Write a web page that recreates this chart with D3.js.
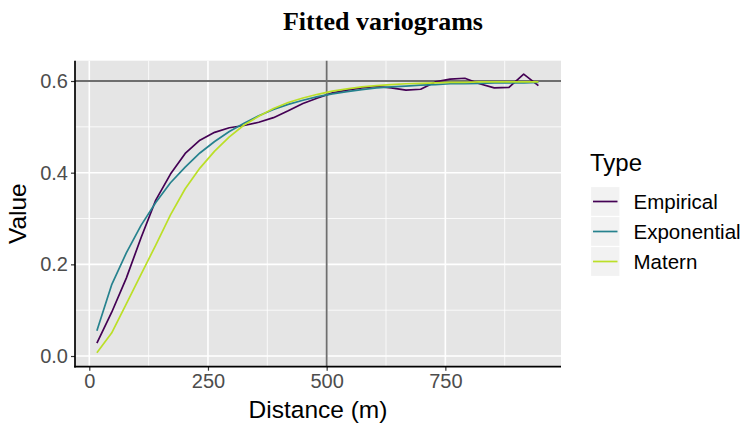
<!DOCTYPE html>
<html><head><meta charset="utf-8">
<script src="https://cdn.jsdelivr.net/npm/d3@7"></script>
<style>body{margin:0;background:#fff}svg{display:block}</style>
</head><body>
<svg id="c" width="743" height="426"></svg>
<script>
const distances = [16,47,78,109,140,171,202,233,264,295,326,357,388,419,450,481,512,543,574,605,636,667,698,729,760,791,822,853,884,915,946];
const empirical = [0.028,0.095,0.170,0.258,0.340,0.397,0.442,0.471,0.488,0.498,0.503,0.510,0.520,0.535,0.551,0.563,0.574,0.580,0.585,0.588,0.585,0.580,0.582,0.598,0.604,0.606,0.594,0.585,0.586,0.615,0.590];
const exponential = [0.055,0.155,0.225,0.285,0.335,0.378,0.412,0.443,0.468,0.490,0.508,0.524,0.538,0.549,0.558,0.566,0.572,0.577,0.581,0.585,0.587,0.589,0.591,0.592,0.594,0.594,0.595,0.596,0.596,0.596,0.597];
const matern = [0.007,0.050,0.114,0.178,0.242,0.308,0.365,0.410,0.447,0.478,0.504,0.523,0.540,0.553,0.563,0.571,0.578,0.583,0.587,0.590,0.592,0.594,0.595,0.596,0.597,0.597,0.598,0.598,0.598,0.598,0.598];
const seriesNames = ["Empirical","Exponential","Matern"];
const seriesColors = ["#440154","#26828E","#BBDF27"];
const xTicks = [0,250,500,750];
const yTicks = [0,0.2,0.4,0.6];
const xMinor = [125,375,625,875];
const yMinor = [0.1,0.3,0.5];
const refX = 500, refY = 0.6;

const svg = d3.select("#c");
const L = 75, R = 561, T = 60.7, B = 366.7;
const x = d3.scaleLinear().domain([-30.1, 993.6]).range([L, R]);
const y = d3.scaleLinear().domain([-0.0233, 0.6443]).range([B, T]);

svg.append("rect").attr("x",L).attr("y",T).attr("width",R-L).attr("height",B-T).attr("fill","#E5E5E5");
const g = svg.append("g");
g.selectAll(".xm").data(xMinor).join("line").attr("x1",d=>x(d)).attr("x2",d=>x(d)).attr("y1",T).attr("y2",B).attr("stroke","#fff").attr("stroke-width",0.8);
g.selectAll(".ym").data(yMinor).join("line").attr("y1",d=>y(d)).attr("y2",d=>y(d)).attr("x1",L).attr("x2",R).attr("stroke","#fff").attr("stroke-width",0.8);
g.selectAll(".xM").data(xTicks).join("line").attr("x1",d=>x(d)).attr("x2",d=>x(d)).attr("y1",T).attr("y2",B).attr("stroke","#fff").attr("stroke-width",1.6);
g.selectAll(".yM").data(yTicks).join("line").attr("y1",d=>y(d)).attr("y2",d=>y(d)).attr("x1",L).attr("x2",R).attr("stroke","#fff").attr("stroke-width",1.6);

// reference lines
svg.append("line").attr("x1",x(refX)).attr("x2",x(refX)).attr("y1",T).attr("y2",B).attr("stroke","#6E6E6E").attr("stroke-width",1.8);
svg.append("line").attr("y1",y(refY)).attr("y2",y(refY)).attr("x1",L).attr("x2",R).attr("stroke","#6E6E6E").attr("stroke-width",1.8);

const allSeries = [empirical, exponential, matern];
const line = d3.line().x((d,i)=>x(distances[i])).y(d=>y(d));
svg.selectAll(".series").data(allSeries).join("path")
  .attr("d", d=>line(d)).attr("fill","none")
  .attr("stroke",(d,i)=>seriesColors[i]).attr("stroke-width",1.7).attr("stroke-linejoin","round");

// axes
const xAxis = d3.axisBottom(x).tickValues(xTicks).tickSize(4).tickPadding(3).tickFormat(d3.format("d"));
const yAxis = d3.axisLeft(y).tickValues(yTicks).tickSize(4).tickPadding(3).tickFormat(d3.format(".1f"));
const gx = svg.append("g").attr("transform",`translate(0,${B})`).call(xAxis);
const gy = svg.append("g").attr("transform",`translate(${L},0)`).call(yAxis);
[gx,gy].forEach(a=>{
  a.select(".domain").remove();
  a.selectAll(".tick line").attr("stroke","#333").attr("stroke-width",1.2);
  a.selectAll(".tick text").attr("fill","#4D4D4D").style("font-family","Liberation Sans, Arial, sans-serif").style("font-size","20px");
});
svg.append("line").attr("x1",L).attr("x2",L).attr("y1",T).attr("y2",B+0.8).attr("stroke","#000").attr("stroke-width",1.7);
svg.append("line").attr("x1",L-0.8).attr("x2",R).attr("y1",B).attr("y2",B).attr("stroke","#000").attr("stroke-width",1.7);

const sans = "Liberation Sans, Arial, sans-serif";
svg.append("text").attr("x",(L+R)/2).attr("y",418).attr("text-anchor","middle")
  .style("font-family",sans).style("font-size","24.5px").attr("fill","#000").text("Distance (m)");
svg.append("text").attr("transform",`translate(26,${(T+B)/2}) rotate(-90)`).attr("text-anchor","middle")
  .style("font-family",sans).style("font-size","24.5px").attr("fill","#000").text("Value");
svg.append("text").attr("x",383).attr("y",30).attr("text-anchor","middle")
  .style("font-family","Liberation Serif, Times New Roman, serif").style("font-weight","bold").style("font-size","26px").attr("fill","#000").text("Fitted variograms");

// legend
const lg = svg.append("g");
lg.append("text").attr("x",590).attr("y",171).style("font-family",sans).style("font-size","24px").attr("fill","#000").text("Type");
const keyY0 = 186.5, keyH = 30, keyW = 29.5;
const items = lg.selectAll(".item").data(seriesNames).join("g").attr("transform",(d,i)=>`translate(590.5,${keyY0+i*keyH})`);
items.append("rect").attr("width",keyW).attr("height",keyH).attr("fill","#F2F2F2").attr("stroke","#fff").attr("stroke-width",1.2);
items.append("line").attr("x1",2.5).attr("x2",keyW-2.5).attr("y1",keyH/2).attr("y2",keyH/2).attr("stroke",(d,i)=>seriesColors[i]).attr("stroke-width",1.7);
items.append("text").attr("x",43).attr("y",keyH/2).attr("dy","0.35em").style("font-family",sans).style("font-size","20.5px").attr("fill","#000").text(d=>d);
</script>
</body></html>
